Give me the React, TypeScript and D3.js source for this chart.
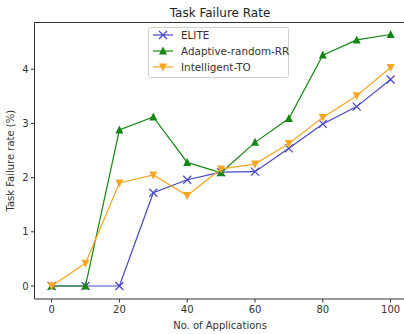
import React from 'react';
import * as d3 from 'd3';

const apps = [0, 10, 20, 30, 40, 50, 60, 70, 80, 90, 100];
const elite = [0, 0, 0, 1.72, 1.96, 2.1, 2.11, 2.54, 2.99, 3.31, 3.81];
const adaptive = [0, 0, 2.88, 3.12, 2.28, 2.09, 2.65, 3.09, 4.26, 4.54, 4.64];
const intelligent = [0, 0.42, 1.9, 2.05, 1.67, 2.16, 2.25, 2.63, 3.11, 3.51, 4.03];
const xTicks = [0, 20, 40, 60, 80, 100];
const yTicks = [0, 1, 2, 3, 4];

const series = [
  { name: 'ELITE', values: elite, color: '#4646c4', marker: 'x' },
  { name: 'Adaptive-random-RR', values: adaptive, color: '#138613', marker: 'up' },
  { name: 'Intelligent-TO', values: intelligent, color: '#f5a623', marker: 'down' },
];

const W = 404;
const H = 334;
const left = 34.5;
const top = 22.5;
const bottom = 299;

function Marker({ kind, x, y, color }: { kind: string; x: number; y: number; color: string }) {
  const s = 4;
  if (kind === 'x') {
    return (
      <path d={`M${x - s},${y - s}L${x + s},${y + s}M${x - s},${y + s}L${x + s},${y - s}`}
        stroke={color} strokeWidth={1.2} fill="none" />
    );
  }
  const pts = kind === 'up'
    ? [[x, y - s - 0.5], [x - s, y + s - 0.5], [x + s, y + s - 0.5]]
    : [[x, y + s + 0.5], [x - s, y - s + 0.5], [x + s, y - s + 0.5]];
  return <path d={'M' + pts.map(p => p.join(',')).join('L') + 'Z'} fill={color} />;
}

export default function App() {
  const x = d3.scaleLinear().domain([0, 100]).range([51.6, 390.6]);
  const y = d3.scaleLinear().domain([0, 4]).range([286, 69.2]);
  const line = d3.line<number>().x((_, i) => x(apps[i])).y(d => y(d));

  return (
    <svg width={W} height={H} style={{ position: 'absolute', left: 0, top: 0, fontFamily: 'DejaVu Sans' }}>
      <rect width={W} height={H} fill="white" />
      <text x={220} y={17} textAnchor="middle" fontSize={12} fill="#222">Task Failure Rate</text>
      {series.map(s => (
        <g key={s.name}>
          <path d={line(s.values) || ''} fill="none" stroke={s.color} strokeWidth={1.2} />
          {s.values.map((v, i) => (
            <Marker key={i} kind={s.marker} x={x(apps[i])} y={y(v)} color={s.color} />
          ))}
        </g>
      ))}
      <path d={`M${W + 5},${top}H${left}V${bottom}H${W + 5}`} fill="none" stroke="#333" strokeWidth={1} />
      {xTicks.map(t => (
        <g key={t}>
          <line x1={x(t)} x2={x(t)} y1={bottom} y2={bottom + 3.5} stroke="#333" />
          <text x={x(t)} y={bottom + 14} textAnchor="middle" fontSize={10} fill="#333">{t}</text>
        </g>
      ))}
      {yTicks.map(t => (
        <g key={t}>
          <line x1={left - 3.5} x2={left} y1={y(t)} y2={y(t)} stroke="#333" />
          <text x={left - 6} y={y(t) + 3.5} textAnchor="end" fontSize={10} fill="#333">{t}</text>
        </g>
      ))}
      <text x={220} y={329} textAnchor="middle" fontSize={10} fill="#333">No. of Applications</text>
      <text transform={`translate(14,${(top + bottom) / 2}) rotate(-90)`} textAnchor="middle" fontSize={10} fill="#333">
        Task Failure rate (%)
      </text>
      <g>
        <rect x={148.5} y={27.5} width={140} height={50} rx={2} fill="white" fillOpacity={0.8} stroke="#d0d0d0" />
        {series.map((s, i) => {
          const ly = 35 + i * 16;
          return (
            <g key={s.name}>
              <line x1={153} x2={173} y1={ly} y2={ly} stroke={s.color} strokeWidth={1.2} />
              <Marker kind={s.marker} x={163} y={ly} color={s.color} />
              <text x={181} y={ly + 3.6} fontSize={10.4} fill="#333">{s.name}</text>
            </g>
          );
        })}
      </g>
    </svg>
  );
}
